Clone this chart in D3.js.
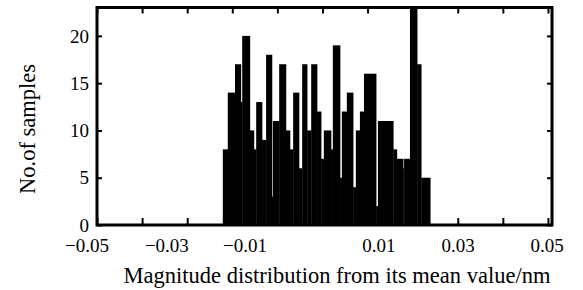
<!DOCTYPE html>
<html>
<head>
<meta charset="utf-8">
<script src="https://cdn.jsdelivr.net/npm/d3@7"></script>
<style>
  body { margin: 0; background: #fff; }
  text { font-family: "Liberation Serif", "Times New Roman", serif; fill: #000; }
</style>
</head>
<body>
<div id="chart"></div>
<script>
// bin edges (nm) and sample counts
const binEdges = [-0.0221, -0.0210, -0.0194, -0.0181, -0.0178, -0.0161, -0.0152, -0.0147,
    -0.0134, -0.0125, -0.0112, -0.0110, -0.0096, -0.0081, -0.0072, -0.0065, -0.0052,
    -0.0045, -0.0034, -0.0025, -0.0012, -0.0003, 0.0003, 0.0019, 0.0023, 0.0039, 0.0043,
    0.0054, 0.0068, 0.0074, 0.0083, 0.0092, 0.0119, 0.0123, 0.0157, 0.0165, 0.0179,
    0.0181, 0.0194, 0.0210, 0.0219, 0.0239];
const counts = [8, 14, 17, 13, 20, 10, 8, 13, 9, 18, 3, 11, 17, 10, 8, 14, 6, 17, 10, 17,
    12, 7, 10, 8, 19, 5, 12, 14, 4, 10, 12, 16, 2, 11, 8, 7, 6, 7, 24, 17, 5];

const xTicks = [-0.05, -0.04, -0.03, -0.02, -0.01, 0, 0.01, 0.02, 0.03, 0.04, 0.05];
const yTicks = [0, 5, 10, 15, 20];
const xLabels = ["\u22120.05", "\u22120.03", "\u22120.01", "0.01", "0.03", "0.05"];
// the printed labels do not sit on the tick grid in the source figure
const xLabelAt = [-0.0522, -0.0345, -0.0172, 0.0125, 0.0301, 0.0498];

const width = 583, height = 290;
const plot = {left: 97, right: 552, top: 7.5, bottom: 225};

const svg = d3.select("#chart").append("svg")
    .attr("width", width)
    .attr("height", height);

const x = d3.scaleLinear().domain([-0.05, 0.0509]).range([plot.left, plot.right]);
const y = d3.scaleLinear().domain([0, 23]).range([plot.bottom, plot.top]);

svg.append("clipPath").attr("id", "clip")
  .append("rect")
    .attr("x", plot.left).attr("y", plot.top)
    .attr("width", plot.right - plot.left).attr("height", plot.bottom - plot.top);

const bins = counts.map((c, i) => ({x0: binEdges[i], x1: binEdges[i + 1], n: c}));

svg.append("g").attr("clip-path", "url(#clip)")
  .selectAll("rect")
  .data(bins)
  .join("rect")
    .attr("x", d => x(d.x0))
    .attr("width", d => x(d.x1) - x(d.x0) + 0.3)
    .attr("y", d => y(d.n))
    .attr("height", d => y(0) - y(d.n))
    .attr("fill", "#000");

// tick marks pointing inwards on all four sides
function ticks(axis, tx, size) {
  const g = svg.append("g")
      .attr("transform", tx)
      .call(axis.tickSize(size).tickFormat(""));
  g.select(".domain").remove();
  g.selectAll(".tick line").attr("stroke", "#000").attr("stroke-width", 2);
}
ticks(d3.axisBottom(x).tickValues(xTicks), `translate(0,${plot.bottom})`, -7);
ticks(d3.axisTop(x).tickValues(xTicks), `translate(0,${plot.top})`, -6);
ticks(d3.axisLeft(y).tickValues(yTicks), `translate(${plot.left},0)`, -5);
ticks(d3.axisRight(y).tickValues(yTicks), `translate(${plot.right},0)`, -5);

svg.append("rect")
    .attr("x", plot.left).attr("y", plot.top)
    .attr("width", plot.right - plot.left).attr("height", plot.bottom - plot.top)
    .attr("fill", "none").attr("stroke", "#000").attr("stroke-width", 3);

// y tick labels
svg.append("g").selectAll("text")
  .data(yTicks)
  .join("text")
    .attr("x", plot.left - 8)
    .attr("y", d => y(d))
    .attr("dy", "0.35em")
    .attr("text-anchor", "end")
    .style("font-size", "19px")
    .text(d => d);

// x tick labels
svg.append("g").selectAll("text")
  .data(xLabels)
  .join("text")
    .attr("x", (d, i) => x(xLabelAt[i]))
    .attr("y", 252)
    .attr("text-anchor", "middle")
    .style("font-size", "19px")
    .text(d => d);

svg.append("text")
    .attr("x", 337)
    .attr("y", 283)
    .attr("text-anchor", "middle")
    .style("font-size", "22.5px")
    .text("Magnitude distribution from its mean value/nm");

svg.append("text")
    .attr("transform", "translate(35,129) rotate(-90)")
    .attr("text-anchor", "middle")
    .style("font-size", "22.5px")
    .text("No.of samples");
</script>
</body>
</html>
